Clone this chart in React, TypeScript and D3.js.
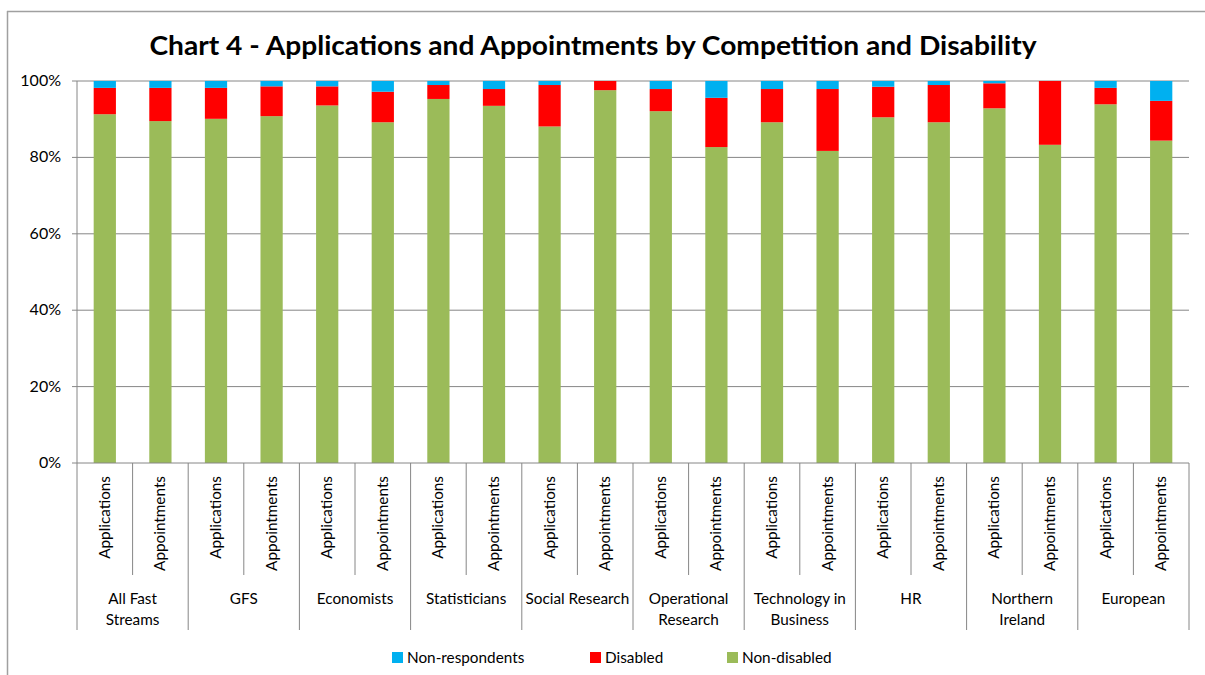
import React from 'react';
import * as d3 from 'd3';

const groups = ['All Fast|Streams', 'GFS', 'Economists', 'Statisticians', 'Social Research', 'Operational|Research', 'Technology in|Business', 'HR', 'Northern|Ireland', 'European'];
const stages = ['Applications', 'Appointments'];

// percent values, one per bar (group x stage)
const nonDisabled = [91.3, 89.5, 90.1, 90.8, 93.6, 89.2, 95.3, 93.5, 88.1, 97.6, 92.1, 82.7, 89.2, 81.7, 90.5, 89.2, 92.85, 83.3, 93.9, 84.4];
const disabled = [6.9, 8.7, 8.1, 7.8, 5.0, 8.0, 3.65, 4.4, 10.85, 2.4, 5.8, 12.9, 8.7, 16.2, 8.0, 9.75, 6.55, 16.7, 4.3, 10.4];
const nonRespondents = [1.8, 1.8, 1.8, 1.4, 1.4, 2.8, 1.05, 2.1, 1.05, 0, 2.1, 4.4, 2.1, 2.1, 1.5, 1.05, 0.6, 0, 1.8, 5.2];

const yTicks = [0, 20, 40, 60, 80, 100];

const seriesKeys = ['nonDisabled', 'disabled', 'nonRespondents'];
const seriesColors: Record<string, string> = { nonDisabled: '#9BBB59', disabled: '#FF0000', nonRespondents: '#00B0F0' };
const legendItems = [
    { key: 'nonRespondents', label: 'Non-respondents' },
    { key: 'disabled', label: 'Disabled' },
    { key: 'nonDisabled', label: 'Non-disabled' },
];

const font = 'Lato, Carlito, Calibri, sans-serif';
const gridColor = '#868686';

const App: React.FC = () => {
    const width = 1205;
    const height = 675;
    const left = 77, right = 1189, top = 81, bottom = 463;

    // one row per bar
    const rows = nonDisabled.map((v, i) => ({
        id: `b${i}`,
        group: Math.floor(i / 2),
        stage: stages[i % 2],
        nonDisabled: v,
        disabled: disabled[i],
        nonRespondents: nonRespondents[i],
    }));

    const x = d3.scaleBand<string>()
        .domain(rows.map(r => r.id))
        .range([left, right])
        .paddingInner(0.6)
        .paddingOuter(0.3);

    const y = d3.scaleLinear().domain([0, 100]).range([bottom, top]);

    const stack = d3.stack<any>().keys(seriesKeys);
    const stacked = stack(rows);

    const step = x.step();
    const groupWidth = (right - left) / groups.length;

    return (
        <div style={{ position: 'absolute', left: 0, top: 0 }}>
            <svg width={width} height={height} style={{ display: 'block', background: '#fff' }}>
                {/* frame */}
                <line x1={7} x2={width} y1={11.5} y2={11.5} stroke="#a0a0a0" strokeWidth={1.5} />
                <line x1={7.5} x2={7.5} y1={11} y2={height} stroke="#a0a0a0" strokeWidth={1.5} />

                <text x={593} y={55} textAnchor="middle" fontFamily={font} fontWeight="bold" fontSize={27}
                    textLength={887} lengthAdjust="spacingAndGlyphs" fill="#000">
                    Chart 4 - Applications and Appointments by Competition and Disability
                </text>

                {/* gridlines and y axis */}
                {yTicks.map(t => (
                    <g key={t}>
                        {t > 0 && <line x1={left} x2={right} y1={y(t)} y2={y(t)} stroke={gridColor} strokeWidth={1} />}
                        <line x1={left - 5} x2={left} y1={y(t)} y2={y(t)} stroke={gridColor} strokeWidth={1} />
                        <text x={61} y={y(t) + 5} textAnchor="end" fontFamily={font} fontSize={16} fill="#000">{t}%</text>
                    </g>
                ))}

                {/* bars */}
                {stacked.map(layer => (
                    <g key={layer.key} fill={seriesColors[layer.key]}>
                        {layer.map((d, i) => (
                            <rect key={i}
                                x={x(rows[i].id)}
                                y={y(d[1])}
                                width={x.bandwidth()}
                                height={Math.max(0, y(d[0]) - y(d[1]))} />
                        ))}
                    </g>
                ))}

                <line x1={left} x2={left} y1={top} y2={bottom} stroke={gridColor} strokeWidth={1} />
                <line x1={left} x2={right} y1={bottom} y2={bottom} stroke={gridColor} strokeWidth={1} />

                {/* category separators */}
                {rows.map((r, i) => {
                    const xb = left + step * i;
                    return i % 2 === 1
                        ? <line key={`s${i}`} x1={xb} x2={xb} y1={bottom} y2={575} stroke={gridColor} />
                        : null;
                })}
                {d3.range(groups.length + 1).map(g => {
                    const xb = left + groupWidth * g;
                    return <line key={`g${g}`} x1={xb} x2={xb} y1={bottom} y2={630} stroke={gridColor} />;
                })}

                {/* stage labels */}
                {rows.map((r, i) => {
                    const cx = (x(r.id) as number) + x.bandwidth() / 2 + 5;
                    return (
                        <text key={`l${i}`} transform={`translate(${cx},${476}) rotate(-90)`}
                            textAnchor="end" fontFamily={font} fontSize={15.3} fill="#000">{r.stage}</text>
                    );
                })}

                {/* group labels */}
                {groups.map((g, gi) => {
                    const cx = left + groupWidth * (gi + 0.5);
                    const lines = g.split('|');
                    return (
                        <text key={`gl${gi}`} textAnchor="middle" fontFamily={font} fontSize={15.3} fill="#000">
                            {lines.map((ln, li) => (
                                <tspan key={li} x={cx} y={604 + li * 21}>{ln}</tspan>
                            ))}
                        </text>
                    );
                })}

                {/* legend */}
                {legendItems.map((item, i) => {
                    const lx = [392, 590, 727][i];
                    return (
                        <g key={item.key}>
                            <rect x={lx} y={652} width={11} height={11} fill={seriesColors[item.key]} />
                            <text x={lx + 15} y={663} fontFamily={font} fontSize={15.3} fill="#000">{item.label}</text>
                        </g>
                    );
                })}
            </svg>
        </div>
    );
};

export default App;
